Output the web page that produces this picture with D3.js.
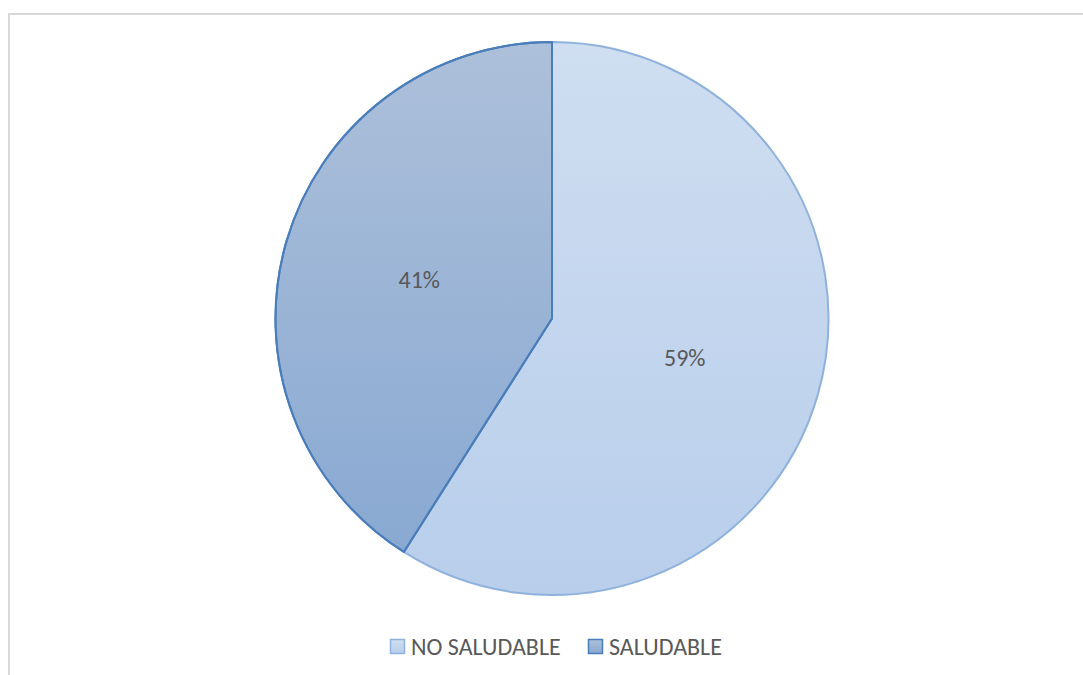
<!DOCTYPE html>
<html><head><meta charset="utf-8">
<script src="https://cdn.jsdelivr.net/npm/d3@7"></script>
<style>html,body{margin:0;padding:0;background:#fff;}svg{display:block;}</style>
</head><body>
<svg id="c" width="1083" height="675"></svg>
<script>
const categories = ["NO SALUDABLE", "SALUDABLE"];
const values = [59, 41];
const labels = ["59%", "41%"];

const svg = d3.select("#c");
const W = 1083, H = 675;
const cx = 552, cy = 318.5, R = 276.5;
const font = "Carlito, Lato, 'Open Sans', sans-serif";

// frame (partially cropped)
svg.append("path").attr("d", `M9,${H} L9,14 L${W},14`).attr("fill","none").attr("stroke","#d9d9d9").attr("stroke-width",2);

const defs = svg.append("defs");
const grads = [
  {id:"g0", top:"#cfdef1", bot:"#b8ceeb"},
  {id:"g1", top:"#adc0da", bot:"#89a9d2"}
];
grads.forEach(g => {
  const lg = defs.append("linearGradient").attr("id", g.id)
    .attr("x1",0).attr("y1",0).attr("x2",0).attr("y2",1);
  lg.append("stop").attr("offset","0%").attr("stop-color",g.top);
  lg.append("stop").attr("offset","100%").attr("stop-color",g.bot);
});
const strokes = ["#8fb2dd", "#4a7ebb"];

const pie = d3.pie().sort(null).value(d => d)(values);
const arc = d3.arc().innerRadius(0).outerRadius(R);
const g = svg.append("g").attr("transform", `translate(${cx},${cy})`);
g.selectAll("path.s").data(pie).join("path").attr("class","s")
  .attr("d", arc)
  .attr("fill", (d,i) => `url(#g${i})`)
  .attr("stroke", (d,i) => strokes[i])
  .attr("stroke-width", 2)
  .attr("stroke-linejoin","round");
g.append("path").attr("d", arc(pie[1])).attr("fill","none").attr("stroke",strokes[1]).attr("stroke-width",2).attr("stroke-linejoin","round");

g.selectAll("text.l").data(pie).join("text").attr("class","l")
  .attr("x", d => arc.centroid(d)[0])
  .attr("y", d => arc.centroid(d)[1])
  .attr("text-anchor","middle").attr("dominant-baseline","central")
  .attr("font-family", font).attr("font-size", 24).attr("fill","#595959")
  .text((d,i) => labels[i]);

// legend
const legX = [390, 588];
const lg = svg.append("g");
categories.forEach((c,i) => {
  lg.append("rect").attr("x", legX[i]+0.5).attr("y", 639.5).attr("width", 14).attr("height", 14)
    .attr("fill", `url(#g${i})`).attr("stroke", strokes[i]).attr("stroke-width", 1.5);
  lg.append("text").attr("x", legX[i]+21).attr("y", 655)
    .attr("font-family", font).attr("font-size", 24).attr("fill","#595959").text(c);
});
</script>
</body></html>
